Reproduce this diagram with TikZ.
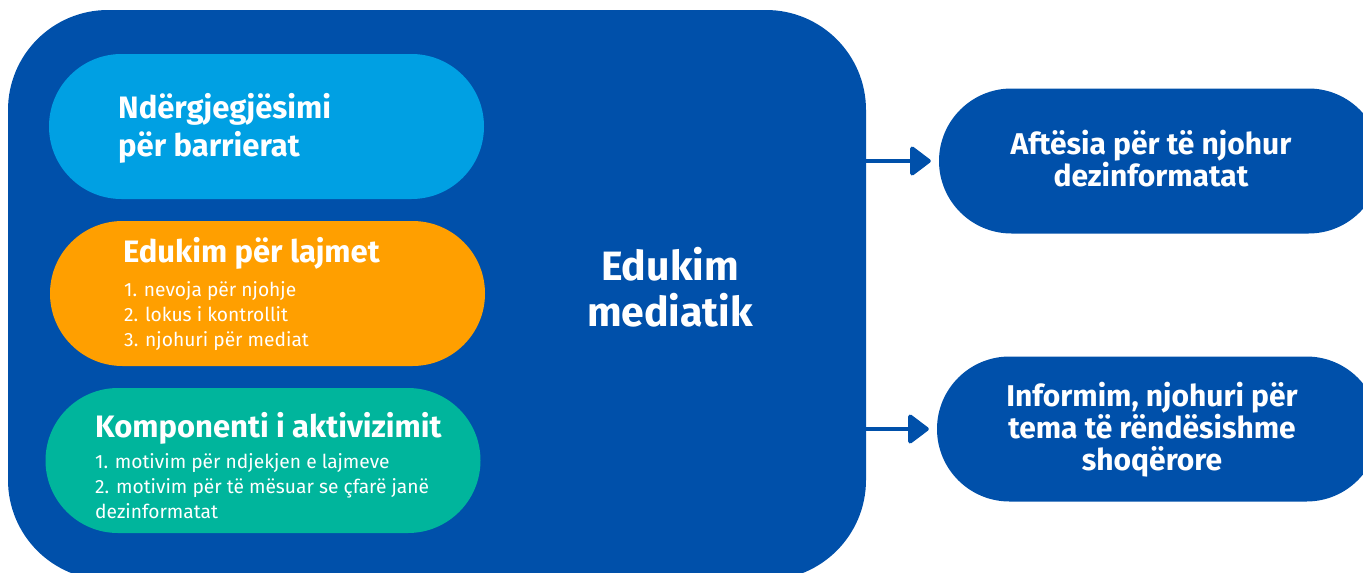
\documentclass[tikz,border=0pt]{standalone}
\usepackage{fontspec}
\setmainfont{Fira Sans}
\usetikzlibrary{shapes.misc,arrows.meta}
\definecolor{mediablue}{RGB}{0,80,170}
\definecolor{skyblue}{RGB}{0,160,227}
\definecolor{newsorange}{RGB}{255,159,0}
\definecolor{activeteal}{RGB}{0,181,156}

\begin{document}
\begin{tikzpicture}[x=1pt,y=-1pt]
	\tikzstyle{pill}=[rounded rectangle,minimum width=435pt,minimum height=145pt,inner sep=0pt]
	\tikzstyle{outcome}=[rounded rectangle,fill=mediablue,minimum width=442pt,minimum height=145pt,inner sep=0pt]
	\tikzstyle{head}=[text=white,inner sep=0pt,align=left,font=\bfseries\fontsize{31}{38}\selectfont]
	\tikzstyle{items}=[text=white,inner sep=0pt,align=left,font=\fontsize{19.2}{25}\selectfont]
	\tikzstyle{outtext}=[text=white,inner sep=0pt,align=center,font=\bfseries\fontsize{30}{31.8}\selectfont]
	\tikzstyle{link}=[-{Triangle[length=22pt,width=32pt,round]},line width=4pt,draw=mediablue,fill=mediablue,shorten >=8pt]

	\useasboundingbox (0,0) rectangle (1363,573);
	\clip (0,0) rectangle (1363,573);

	% main block
	\node [rectangle,rounded corners=100pt,fill=mediablue,minimum width=858pt,minimum height=570pt,inner sep=0pt] (media) at (437,295) {};
	\node [outtext,anchor=base,font=\bfseries\fontsize{41}{46}\selectfont] (media_title) at (670,326) {Edukim\\mediatik};

	\node [pill,fill=skyblue] (barriers) at (266.5,126.5) {};
	\node [pill,fill=newsorange] (news) at (267.5,293.5) {};
	\node [pill,fill=activeteal] (active) at (263,460.5) {};

	\node [head,anchor=base west] (barriers_head) at (118,156) {Ndërgjegjësimi\\për barrierat};
	\node [head,anchor=base west] (news_head) at (123,262) {Edukim për lajmet};
	\node [items,anchor=base west] (news_items) at (124,346) {1. nevoja për njohje\\2. lokus i kontrollit\\3. njohuri për mediat};
	\node [head,anchor=base west] (active_head) at (95,437) {Komponenti i aktivizimit};
	\node [items,anchor=base west] (active_items) at (95,518) {1. motivim për ndjekjen e lajmeve\\2. motivim për të mësuar se çfarë janë\\dezinformatat};

	% outcomes
	\node [outcome] (ability) at (1160,161) {};
	\node [outcome] (inform) at (1158,429) {};
	\node [outtext,anchor=base] (ability_text) at (1151,186) {Aftësia për të njohur\\dezinformatat};
	\node [outtext,anchor=base] (inform_text) at (1152,470) {Informim, njohuri për\\tema të rëndësishme\\shoqërore};

	\foreach \dest in {ability,inform}
	  \draw [link] (media.east |- \dest.west) to (\dest.west);
\end{tikzpicture}
\end{document}
